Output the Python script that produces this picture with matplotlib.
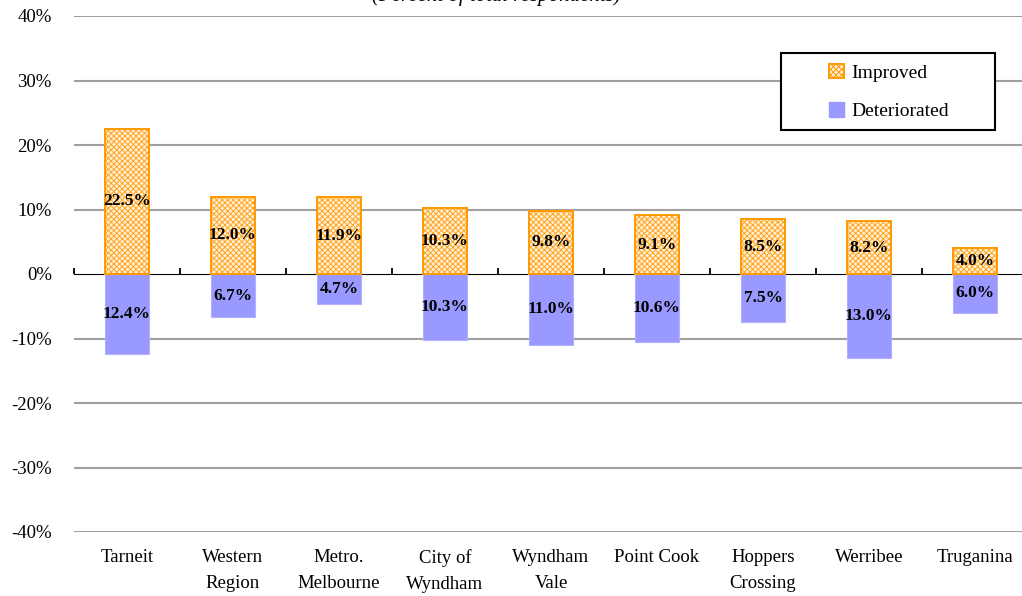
import numpy as np
import matplotlib.pyplot as plt
from matplotlib.patches import Patch, Rectangle

plt.rcParams["font.family"] = ["Liberation Serif", "DejaVu Serif"]
plt.rcParams["hatch.linewidth"] = 0.7

areas = ["Tarneit", "Western\nRegion", "Metro.\nMelbourne", "City of\nWyndham",
         "Wyndham\nVale", "Point Cook", "Hoppers\nCrossing", "Werribee", "Truganina"]
improved = [22.5, 12.0, 11.9, 10.3, 9.8, 9.1, 8.5, 8.2, 4.0]
deteriorated = [12.4, 6.7, 4.7, 10.3, 11.0, 10.6, 7.5, 13.0, 6.0]
yticks = [-40, -30, -20, -10, 0, 10, 20, 30, 40]

W, H = 1022, 596
fig = plt.figure(figsize=(W / 100, H / 100), dpi=100)
ax = fig.add_axes([74 / W, 1 - 532 / H, 954 / W, 516 / H])

x = np.arange(len(areas))
width = 0.41

ax.bar(x, improved, width, color="#fff0d8", edgecolor="#ffa51f", hatch="xxxxxx",
       linewidth=0, zorder=3)
ax.bar(x, improved, width, color="none", edgecolor="#ff9900", linewidth=1.4, zorder=4)
ax.bar(x, [-v for v in deteriorated], width, color="#9999ff", edgecolor="#b0b0ff",
       linewidth=0.8, zorder=3)

for i in range(len(areas)):
    ax.text(x[i], improved[i] / 2, f"{improved[i]:.1f}%", ha="center", va="center",
            fontsize=12.5, fontweight="bold", zorder=5)
    ax.text(x[i], -deteriorated[i] / 2, f"{deteriorated[i]:.1f}%", ha="center", va="center",
            fontsize=12.5, fontweight="bold", zorder=5)

ax.set_xlim(-0.5, len(areas) - 0.5)
ax.set_ylim(-40, 40)
ax.set_yticks(yticks)
ax.set_yticklabels([f"{v}%" for v in yticks], fontsize=13.5)
ax.set_xticks(x)
ax.set_xticklabels(areas, fontsize=13.5, linespacing=1.7)
ax.tick_params(axis="both", length=0)
ax.tick_params(axis="x", pad=12)
ax.tick_params(axis="y", pad=16)

for v in yticks:
    if v != 0:
        ax.axhline(v, color="#a0a0a0", linewidth=1.5, zorder=1)
for s in ax.spines.values():
    s.set_visible(False)

# zero line with category dividers
zero = ax.secondary_xaxis(0.5)
zero.set_xticks(np.arange(len(areas) + 1) - 0.5)
zero.set_xticklabels([])
zero.tick_params(axis="x", direction="out", length=4, width=1.3, color="black")
zero.spines["bottom"].set_linewidth(1.5)
zero.spines["bottom"].set_zorder(6)

# legend box drawn separately so it can be wider than its entries
box = Rectangle((781 / W, 1 - 130 / H), 214 / W, 77 / H, transform=fig.transFigure,
                facecolor="white", edgecolor="black", linewidth=1.5, zorder=7)
fig.add_artist(box)
handles = [Patch(facecolor="#fff0d8", edgecolor="#ff9900", hatch="xxxxxx", linewidth=1.4),
           Patch(facecolor="#9999ff", edgecolor="#9999ff")]
leg = fig.legend(handles, ["Improved", "Deteriorated"], loc="upper left",
                 bbox_to_anchor=(829 / W, 1 - 64 / H), fontsize=14,
                 frameon=False, handlelength=0.75, handleheight=0.75,
                 borderpad=0, labelspacing=1.05, borderaxespad=0, handletextpad=0.4)
leg.set_zorder(8)

fig.text(496 / W, 1 - 1 / H, "(Percent of total respondents)", ha="center",
         va="baseline", fontsize=15, style="italic")

fig.savefig("out.png", dpi=100)
